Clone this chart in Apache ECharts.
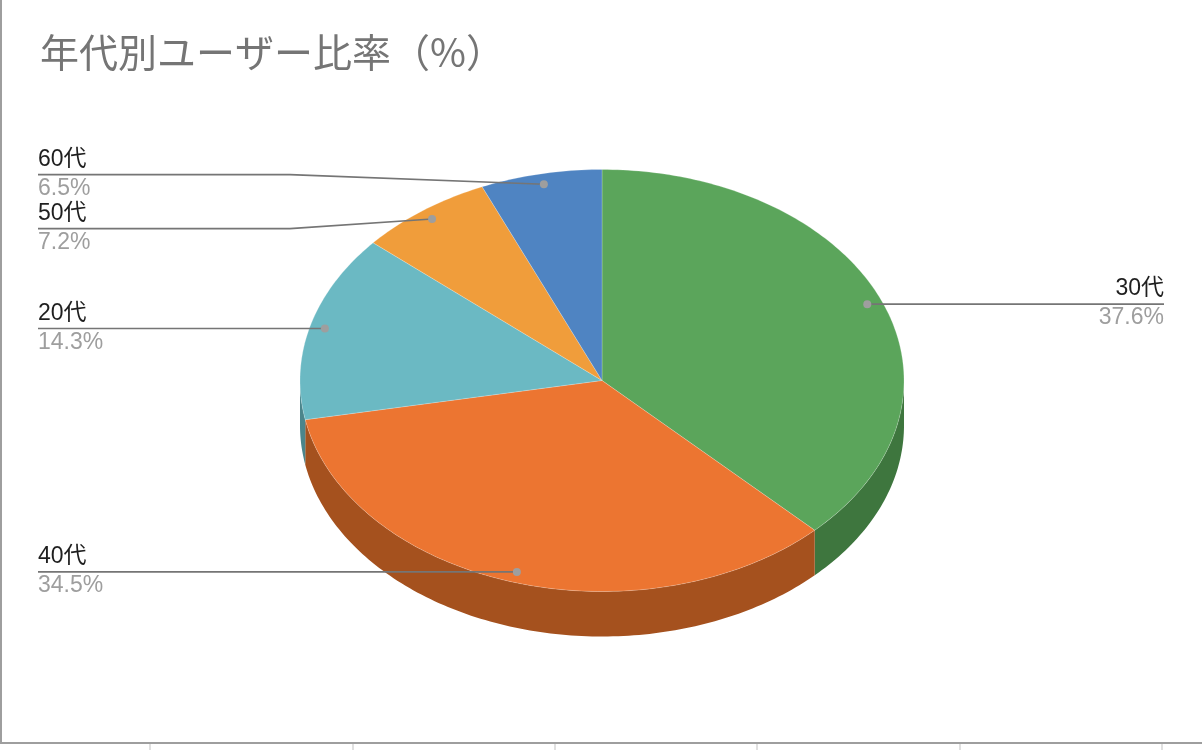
<!DOCTYPE html>
<html>
<head>
<meta charset="utf-8">
<script src="https://cdn.jsdelivr.net/npm/echarts@6/dist/echarts.min.js"></script>
<style>
  html, body { margin: 0; padding: 0; background: #fff; }
  #main { width: 1202px; height: 750px; }
</style>
</head>
<body>
<div id="main"></div>
<script>
// 年代別ユーザー比率 (clockwise from 12 o'clock)
var categories = ['30代', '40代', '20代', '50代', '60代'];
var values = [37.6, 34.5, 14.3, 7.2, 6.5];
var topColors = ['#5ba55b', '#ec7531', '#6bb9c3', '#f09d3b', '#4f84c2'];
var sideColors = ['#3e763e', '#a5511e', '#4b858b', '#b0702a', '#38608e'];

// 3D pie geometry
var cx = 602, cy = 380.5, rx = 302, ry = 211, depth = 45;
var dotR = 0.95;
var gap = 54;

var total = values.reduce(function (a, b) { return a + b; }, 0);
var slices = [];
var acc = 0;
values.forEach(function (v, i) {
  var a0 = acc / total * Math.PI * 2;
  acc += v;
  var a1 = acc / total * Math.PI * 2;
  slices.push({ a0: a0, a1: a1, mid: (a0 + a1) / 2 });
});

function pt(a, k, dy) {
  k = k == null ? 1 : k;
  return [cx + rx * k * Math.sin(a), cy - ry * k * Math.cos(a) + (dy || 0)];
}

function arc(a0, a1, dy) {
  var pts = [];
  var n = Math.max(2, Math.ceil((a1 - a0) / (Math.PI / 180)));
  for (var i = 0; i <= n; i++) pts.push(pt(a0 + (a1 - a0) * i / n, 1, dy));
  return pts;
}

// label positions, spread apart on each side
slices.forEach(function (s, i) {
  var d = pt(s.mid, dotR);
  s.dot = d;
  s.side = Math.sin(s.mid) >= 0 ? 'right' : 'left';
  s.ly = d[1];
});
['left', 'right'].forEach(function (side) {
  var list = slices.filter(function (s) { return s.side === side; })
    .sort(function (a, b) { return a.ly - b.ly; });
  for (var it = 0; it < 30; it++) {
    for (var j = 1; j < list.length; j++) {
      var d = list[j].ly - list[j - 1].ly;
      if (d < gap) {
        var push = (gap - d) / 2;
        list[j].ly += push;
        list[j - 1].ly -= push;
      }
    }
  }
});

var chart = echarts.init(document.getElementById('main'));

function renderSide(params, api) {
  var s = slices[params.dataIndex];
  var b0 = Math.max(s.a0, Math.PI / 2), b1 = Math.min(s.a1, Math.PI * 1.5);
  if (b1 <= b0) return { type: 'group', children: [] };
  var top = arc(b0, b1, 0);
  var bot = arc(b0, b1, depth).reverse();
  return {
    type: 'polygon',
    shape: { points: top.concat(bot) },
    style: { fill: sideColors[params.dataIndex] }
  };
}

function renderTop(params, api) {
  var s = slices[params.dataIndex];
  var pts = [[cx, cy]].concat(arc(s.a0, s.a1, 0));
  return {
    type: 'polygon',
    shape: { points: pts },
    style: { fill: topColors[params.dataIndex], stroke: 'rgba(255,255,255,0.35)', lineWidth: 0.6 }
  };
}

function renderLabel(params, api) {
  var i = params.dataIndex;
  var s = slices[i];
  var left = s.side === 'left';
  var x0 = left ? 38 : 1164;
  var bend = left ? 290 : 914;
  var font = '"Liberation Sans", "Noto Sans CJK JP", sans-serif';
  return {
    type: 'group',
    children: [
      {
        type: 'polyline',
        shape: { points: [[x0, s.ly], [bend, s.ly], s.dot] },
        style: { stroke: '#757575', lineWidth: 1.6, fill: null }
      },
      {
        type: 'circle',
        shape: { cx: s.dot[0], cy: s.dot[1], r: 4 },
        style: { fill: '#9e9e9e' }
      },
      {
        type: 'text',
        x: x0, y: s.ly - 15,
        style: {
          text: categories[i], fill: '#1f1f1f', font: '23px ' + font,
          align: left ? 'left' : 'right', verticalAlign: 'middle'
        }
      },
      {
        type: 'text',
        x: x0, y: s.ly + 14,
        style: {
          text: values[i].toFixed(1) + '%', fill: '#9e9e9e', font: '23px ' + font,
          align: left ? 'left' : 'right', verticalAlign: 'middle'
        }
      }
    ]
  };
}

var seriesData = values.map(function (v, i) { return [i, v]; });
var ticks = [150, 353, 555, 757, 960, 1162];

chart.setOption({
  animation: false,
  backgroundColor: '#fff',
  title: {
    text: '年代別ユーザー比率（%）',
    left: 35, top: 28,
    textStyle: { fontSize: 39, fontWeight: 'normal', color: '#757575', fontFamily: '"Noto Sans CJK JP", sans-serif' }
  },
  graphic: [
    { type: 'line', shape: { x1: 1, y1: 0, x2: 1, y2: 743 }, style: { stroke: '#9e9e9e', lineWidth: 2 } },
    { type: 'line', shape: { x1: 0, y1: 743, x2: 1202, y2: 743 }, style: { stroke: '#9e9e9e', lineWidth: 2 } }
  ].concat(ticks.map(function (t) {
    return { type: 'line', shape: { x1: t, y1: 744, x2: t, y2: 750 }, style: { stroke: '#e0e0e0', lineWidth: 2 } };
  })),
  series: [
    { type: 'custom', coordinateSystem: 'none', silent: true, z: 1, renderItem: renderSide, data: seriesData },
    { type: 'custom', coordinateSystem: 'none', silent: true, z: 2, renderItem: renderTop, data: seriesData },
    { type: 'custom', coordinateSystem: 'none', silent: true, z: 3, renderItem: renderLabel, data: seriesData }
  ]
});
</script>
</body>
</html>
